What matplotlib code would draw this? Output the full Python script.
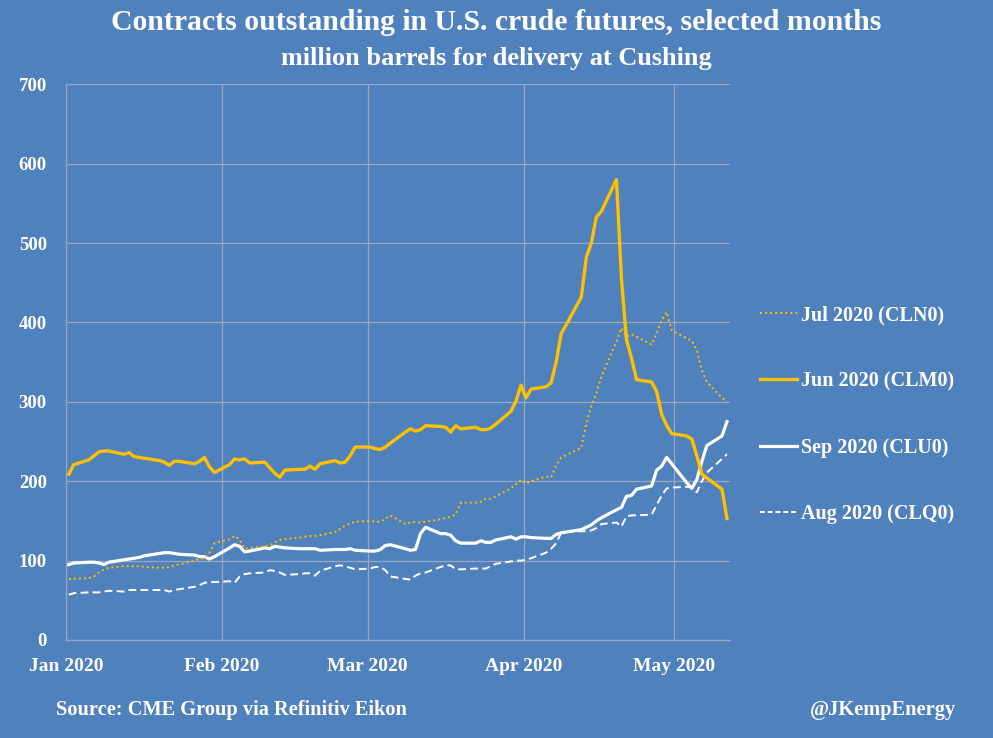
import pandas as pd
import numpy as np
import matplotlib
matplotlib.use('Agg')
import matplotlib.pyplot as plt
import matplotlib.dates as mdates
from matplotlib.lines import Line2D

# ------------------------------------------------------------------
# data: open interest, million barrels, trading days Jan 2 - May 12 2020
# ------------------------------------------------------------------
dates = pd.bdate_range('2020-01-02', '2020-05-12')

jun_clm0 = [
    209, 221, 227, 232, 237, 238, 238, 234, 236, 231, 230, 229, 226, 224, 220, 225, 225, 222, 225, 230, 218, 211,
    221, 228, 227, 228, 223, 224, 217, 210, 205, 214, 215, 215, 219, 215, 222, 226, 223, 224, 232, 243,
    243, 241, 240, 243, 248, 262, 266, 263, 265, 270, 269, 268, 262, 270, 266, 268, 265, 265, 267, 272, 288, 301,
    321, 305, 316, 319, 324, 350, 386, 397, 432, 482, 500, 533, 540, 580, 455, 378, 355, 328, 325, 313, 284, 270,
    260, 257, 253, 232, 209, 204, 190, 153,
]

jul_cln0 = [
    77, 77, 78, 80, 85, 89, 91, 93, 93, 93, 93, 92, 91, 91, 92, 94, 95, 100, 102, 103, 110, 122,
    127, 131, 126, 115, 116, 118, 119, 123, 126, 127, 129, 130, 131, 131, 132, 136, 140, 144, 147, 149,
    150, 149, 149, 153, 157, 146, 148, 149, 148, 149, 152, 154, 155, 158, 173, 173, 174, 178, 178, 181, 191, 196,
    202, 197, 200, 206, 205, 220, 230, 233, 242, 273, 295, 311, 332, 376, 393, 382, 385, 382, 372, 386, 403, 413,
    390, 380, 377, 365, 340, 325, 305, 300,
]

aug_clq0 = [
    57, 59, 60, 60, 60, 61, 62, 61, 63, 63, 63, 63, 63, 63, 61, 63, 64, 67, 69, 72, 73, 73,
    74, 72, 80, 83, 84, 85, 88, 87, 85, 82, 83, 84, 84, 81, 87, 93, 94, 93, 91, 89,
    90, 92, 92, 88, 80, 77, 76, 81, 84, 85, 92, 94, 94, 89, 89, 90, 90, 90, 93, 96, 99, 100,
    100, 101, 103, 110, 115, 122, 135, 136, 137, 137, 138, 141, 146, 148, 143, 156, 157, 157, 158, 170, 182, 191,
    192, 193, 192, 186, 200, 211, 228, 234,
]

sep_clu0 = [
    95, 97, 98, 98, 97, 95, 98, 101, 102, 103, 104, 106, 109, 110, 110, 109, 108, 107, 105, 105, 102, 105,
    116, 120, 118, 111, 112, 116, 115, 118, 117, 116, 115, 115, 115, 115, 113, 114, 114, 114, 115, 113,
    112, 112, 114, 119, 120, 115, 113, 114, 134, 142, 134, 134, 132, 125, 122, 122, 125, 123, 123, 126, 130, 127,
    130, 130, 129, 128, 128, 133, 135, 136, 139, 142, 145, 150, 154, 164, 167, 181, 182, 190, 194, 214, 219, 230,
    222, 198, 191, 202, 225, 245, 257, 275,
]

month_ticks = pd.date_range('2020-01-01', '2020-05-01', freq='MS')
month_labels = ['Jan 2020', 'Feb 2020', 'Mar 2020', 'Apr 2020', 'May 2020']
y_ticks = [0, 100, 200, 300, 400, 500, 600, 700]

# ------------------------------------------------------------------
# style
# ------------------------------------------------------------------
BG = '#4F81BD'
GOLD = '#FFC000'
GRID = '#9aa8bf'
FONT = 'Liberation Serif'

plt.rcParams['font.family'] = [FONT, 'DejaVu Serif']
plt.rcParams['font.weight'] = 'bold'

fig = plt.figure(figsize=(9.93, 7.38), dpi=100, facecolor=BG)
ax = fig.add_axes([66.3 / 993, 1 - 640 / 738, (730 - 66.3) / 993, (640 - 84.3) / 738])
ax.set_facecolor(BG)

x = mdates.date2num(dates)

ax.plot(x, sep_clu0, color='white', lw=2.3, solid_joinstyle='round', zorder=3)
ax.plot(x, aug_clq0, color='white', lw=1.4, dashes=(4, 2.2), zorder=3)
ax.plot(x, jul_cln0, color=GOLD, lw=1.4, linestyle=(0, (1, 1.6)), zorder=3)
ax.plot(x, jun_clm0, color=GOLD, lw=2.4, solid_joinstyle='round', zorder=4)

# month gridlines sit half a day after midnight in the original chart
half_day = pd.Timedelta(hours=12)
tick_pos = mdates.date2num(month_ticks + half_day)
ax.set_xticks(tick_pos)
ax.set_xticklabels(month_labels)
ax.set_xlim(mdates.date2num(pd.Timestamp('2020-01-01') + half_day),
            mdates.date2num(pd.Timestamp('2020-01-01') + pd.Timedelta(days=132.6)))

ax.set_yticks(y_ticks)
ax.set_ylim(0, 700)

ax.grid(True, color=GRID, lw=0.9)
ax.set_axisbelow(True)
for side in ['top', 'right']:
    ax.spines[side].set_visible(False)
for side in ['left', 'bottom']:
    ax.spines[side].set_color(GRID)
    ax.spines[side].set_linewidth(0.9)

ax.tick_params(axis='both', length=0, colors='white')
ax.tick_params(axis='y', pad=14, labelsize=13.5)
ax.tick_params(axis='x', pad=13, labelsize=14)
for lab in ax.get_xticklabels() + ax.get_yticklabels():
    lab.set_fontweight('bold')
    lab.set_color('white')

# legend, in the original's order
handles = [
    Line2D([], [], color=GOLD, lw=1.4, linestyle=(0, (1, 1.6))),
    Line2D([], [], color=GOLD, lw=2.4),
    Line2D([], [], color='white', lw=2.3),
    Line2D([], [], color='white', lw=1.4, dashes=(2.5, 1.5)),
]
labels = ['Jul 2020 (CLN0)', 'Jun 2020 (CLM0)', 'Sep 2020 (CLU0)', 'Aug 2020 (CLQ0)']
leg = fig.legend(handles, labels, loc='center left', bbox_to_anchor=(760 / 993, 1 - 414.5 / 738),
                 frameon=False, handlelength=1.85, handletextpad=0.2, labelspacing=2.3,
                 borderpad=0, borderaxespad=0,
                 prop={'family': FONT, 'weight': 'bold', 'size': 14.5})
for t in leg.get_texts():
    t.set_color('white')

# titles and footer
fig.text(0.5, 1 - 22 / 738, 'Contracts outstanding in U.S. crude futures, selected months',
         ha='center', va='center', color='white', fontsize=21.4, fontweight='bold')
fig.text(0.5, 1 - 58 / 738, 'million barrels for delivery at Cushing',
         ha='center', va='center', color='white', fontsize=18.9, fontweight='bold')
fig.text(56 / 993, 1 - 710 / 738, 'Source: CME Group via Refinitiv Eikon',
         ha='left', va='center', color='white', fontsize=14.7, fontweight='bold')
fig.text(956 / 993, 1 - 710 / 738, '@JKempEnergy',
         ha='right', va='center', color='white', fontsize=14.7, fontweight='bold')

fig.savefig('out.png', dpi=100, facecolor=BG)
plt.close(fig)
